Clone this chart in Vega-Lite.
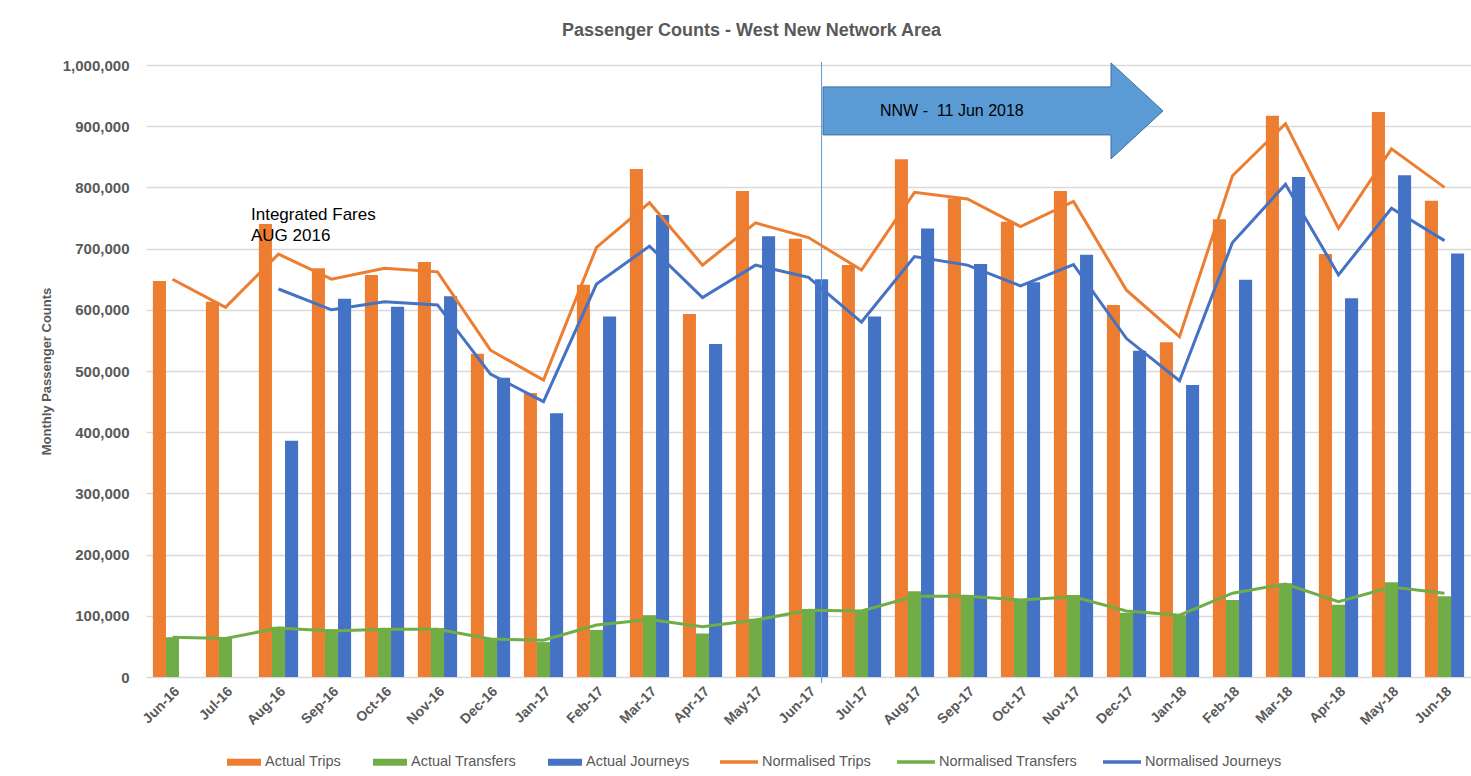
{
  "$schema": "https://vega.github.io/schema/vega-lite/v6.json",
  "width": 1325,
  "height": 612,
  "autosize": {"type": "none"},
  "padding": {"left": 146, "top": 65, "right": 0, "bottom": 99},
  "background": "white",
  "title": {
    "text": "Passenger Counts - West New Network Area",
    "fontSize": 18,
    "fontWeight": "bold",
    "color": "#595959",
    "anchor": "middle",
    "dx": -57,
    "offset": 18,
    "font": "Liberation Sans"
  },
  "datasets": {
    "bars": [
      {"month": "Jun-16", "series": "Actual Trips", "value": 647000},
      {"month": "Jul-16", "series": "Actual Trips", "value": 613000},
      {"month": "Aug-16", "series": "Actual Trips", "value": 740000},
      {"month": "Sep-16", "series": "Actual Trips", "value": 668000},
      {"month": "Oct-16", "series": "Actual Trips", "value": 657000},
      {"month": "Nov-16", "series": "Actual Trips", "value": 678000},
      {"month": "Dec-16", "series": "Actual Trips", "value": 528000},
      {"month": "Jan-17", "series": "Actual Trips", "value": 464000},
      {"month": "Feb-17", "series": "Actual Trips", "value": 641000},
      {"month": "Mar-17", "series": "Actual Trips", "value": 830000},
      {"month": "Apr-17", "series": "Actual Trips", "value": 593000},
      {"month": "May-17", "series": "Actual Trips", "value": 794000},
      {"month": "Jun-17", "series": "Actual Trips", "value": 716000},
      {"month": "Jul-17", "series": "Actual Trips", "value": 673000},
      {"month": "Aug-17", "series": "Actual Trips", "value": 846000},
      {"month": "Sep-17", "series": "Actual Trips", "value": 782000},
      {"month": "Oct-17", "series": "Actual Trips", "value": 744000},
      {"month": "Nov-17", "series": "Actual Trips", "value": 794000},
      {"month": "Dec-17", "series": "Actual Trips", "value": 608000},
      {"month": "Jan-18", "series": "Actual Trips", "value": 547000},
      {"month": "Feb-18", "series": "Actual Trips", "value": 748000},
      {"month": "Mar-18", "series": "Actual Trips", "value": 917000},
      {"month": "Apr-18", "series": "Actual Trips", "value": 691000},
      {"month": "May-18", "series": "Actual Trips", "value": 923000},
      {"month": "Jun-18", "series": "Actual Trips", "value": 778000},
      {"month": "Jun-16", "series": "Actual Transfers", "value": 65000},
      {"month": "Jul-16", "series": "Actual Transfers", "value": 64000},
      {"month": "Aug-16", "series": "Actual Transfers", "value": 82000},
      {"month": "Sep-16", "series": "Actual Transfers", "value": 78000},
      {"month": "Oct-16", "series": "Actual Transfers", "value": 80000},
      {"month": "Nov-16", "series": "Actual Transfers", "value": 80000},
      {"month": "Dec-16", "series": "Actual Transfers", "value": 63000},
      {"month": "Jan-17", "series": "Actual Transfers", "value": 57000},
      {"month": "Feb-17", "series": "Actual Transfers", "value": 77000},
      {"month": "Mar-17", "series": "Actual Transfers", "value": 101000},
      {"month": "Apr-17", "series": "Actual Transfers", "value": 71000},
      {"month": "May-17", "series": "Actual Transfers", "value": 95000},
      {"month": "Jun-17", "series": "Actual Transfers", "value": 111000},
      {"month": "Jul-17", "series": "Actual Transfers", "value": 109000},
      {"month": "Aug-17", "series": "Actual Transfers", "value": 140000},
      {"month": "Sep-17", "series": "Actual Transfers", "value": 134000},
      {"month": "Oct-17", "series": "Actual Transfers", "value": 127000},
      {"month": "Nov-17", "series": "Actual Transfers", "value": 134000},
      {"month": "Dec-17", "series": "Actual Transfers", "value": 105000},
      {"month": "Jan-18", "series": "Actual Transfers", "value": 101000},
      {"month": "Feb-18", "series": "Actual Transfers", "value": 126000},
      {"month": "Mar-18", "series": "Actual Transfers", "value": 153000},
      {"month": "Apr-18", "series": "Actual Transfers", "value": 118000},
      {"month": "May-18", "series": "Actual Transfers", "value": 155000},
      {"month": "Jun-18", "series": "Actual Transfers", "value": 132000},
      {"month": "Aug-16", "series": "Actual Journeys", "value": 386000},
      {"month": "Sep-16", "series": "Actual Journeys", "value": 618000},
      {"month": "Oct-16", "series": "Actual Journeys", "value": 605000},
      {"month": "Nov-16", "series": "Actual Journeys", "value": 622000},
      {"month": "Dec-16", "series": "Actual Journeys", "value": 489000},
      {"month": "Jan-17", "series": "Actual Journeys", "value": 431000},
      {"month": "Feb-17", "series": "Actual Journeys", "value": 589000},
      {"month": "Mar-17", "series": "Actual Journeys", "value": 755000},
      {"month": "Apr-17", "series": "Actual Journeys", "value": 544000},
      {"month": "May-17", "series": "Actual Journeys", "value": 720000},
      {"month": "Jun-17", "series": "Actual Journeys", "value": 650000},
      {"month": "Jul-17", "series": "Actual Journeys", "value": 589000},
      {"month": "Aug-17", "series": "Actual Journeys", "value": 733000},
      {"month": "Sep-17", "series": "Actual Journeys", "value": 675000},
      {"month": "Oct-17", "series": "Actual Journeys", "value": 645000},
      {"month": "Nov-17", "series": "Actual Journeys", "value": 690000},
      {"month": "Dec-17", "series": "Actual Journeys", "value": 533000},
      {"month": "Jan-18", "series": "Actual Journeys", "value": 477000},
      {"month": "Feb-18", "series": "Actual Journeys", "value": 649000},
      {"month": "Mar-18", "series": "Actual Journeys", "value": 817000},
      {"month": "Apr-18", "series": "Actual Journeys", "value": 619000},
      {"month": "May-18", "series": "Actual Journeys", "value": 820000},
      {"month": "Jun-18", "series": "Actual Journeys", "value": 692000}
    ],
    "lines": [
      {"month": "Jun-16", "series": "Normalised Trips", "value": 650000},
      {"month": "Jul-16", "series": "Normalised Trips", "value": 604000},
      {"month": "Aug-16", "series": "Normalised Trips", "value": 691000},
      {"month": "Sep-16", "series": "Normalised Trips", "value": 650000},
      {"month": "Oct-16", "series": "Normalised Trips", "value": 668000},
      {"month": "Nov-16", "series": "Normalised Trips", "value": 662000},
      {"month": "Dec-16", "series": "Normalised Trips", "value": 534000},
      {"month": "Jan-17", "series": "Normalised Trips", "value": 485000},
      {"month": "Feb-17", "series": "Normalised Trips", "value": 702000},
      {"month": "Mar-17", "series": "Normalised Trips", "value": 775000},
      {"month": "Apr-17", "series": "Normalised Trips", "value": 673000},
      {"month": "May-17", "series": "Normalised Trips", "value": 742000},
      {"month": "Jun-17", "series": "Normalised Trips", "value": 718000},
      {"month": "Jul-17", "series": "Normalised Trips", "value": 665000},
      {"month": "Aug-17", "series": "Normalised Trips", "value": 792000},
      {"month": "Sep-17", "series": "Normalised Trips", "value": 781000},
      {"month": "Oct-17", "series": "Normalised Trips", "value": 736000},
      {"month": "Nov-17", "series": "Normalised Trips", "value": 777000},
      {"month": "Dec-17", "series": "Normalised Trips", "value": 632000},
      {"month": "Jan-18", "series": "Normalised Trips", "value": 556000},
      {"month": "Feb-18", "series": "Normalised Trips", "value": 819000},
      {"month": "Mar-18", "series": "Normalised Trips", "value": 904000},
      {"month": "Apr-18", "series": "Normalised Trips", "value": 733000},
      {"month": "May-18", "series": "Normalised Trips", "value": 863000},
      {"month": "Jun-18", "series": "Normalised Trips", "value": 800000},
      {"month": "Jun-16", "series": "Normalised Transfers", "value": 65000},
      {"month": "Jul-16", "series": "Normalised Transfers", "value": 63000},
      {"month": "Aug-16", "series": "Normalised Transfers", "value": 80000},
      {"month": "Sep-16", "series": "Normalised Transfers", "value": 75000},
      {"month": "Oct-16", "series": "Normalised Transfers", "value": 78000},
      {"month": "Nov-16", "series": "Normalised Transfers", "value": 78000},
      {"month": "Dec-16", "series": "Normalised Transfers", "value": 62000},
      {"month": "Jan-17", "series": "Normalised Transfers", "value": 60000},
      {"month": "Feb-17", "series": "Normalised Transfers", "value": 85000},
      {"month": "Mar-17", "series": "Normalised Transfers", "value": 94000},
      {"month": "Apr-17", "series": "Normalised Transfers", "value": 82000},
      {"month": "May-17", "series": "Normalised Transfers", "value": 93000},
      {"month": "Jun-17", "series": "Normalised Transfers", "value": 109000},
      {"month": "Jul-17", "series": "Normalised Transfers", "value": 108000},
      {"month": "Aug-17", "series": "Normalised Transfers", "value": 132000},
      {"month": "Sep-17", "series": "Normalised Transfers", "value": 132000},
      {"month": "Oct-17", "series": "Normalised Transfers", "value": 126000},
      {"month": "Nov-17", "series": "Normalised Transfers", "value": 131000},
      {"month": "Dec-17", "series": "Normalised Transfers", "value": 108000},
      {"month": "Jan-18", "series": "Normalised Transfers", "value": 101000},
      {"month": "Feb-18", "series": "Normalised Transfers", "value": 137000},
      {"month": "Mar-18", "series": "Normalised Transfers", "value": 152000},
      {"month": "Apr-18", "series": "Normalised Transfers", "value": 123000},
      {"month": "May-18", "series": "Normalised Transfers", "value": 147000},
      {"month": "Jun-18", "series": "Normalised Transfers", "value": 137000},
      {"month": "Aug-16", "series": "Normalised Journeys", "value": 634000},
      {"month": "Sep-16", "series": "Normalised Journeys", "value": 600000},
      {"month": "Oct-16", "series": "Normalised Journeys", "value": 613000},
      {"month": "Nov-16", "series": "Normalised Journeys", "value": 608000},
      {"month": "Dec-16", "series": "Normalised Journeys", "value": 495000},
      {"month": "Jan-17", "series": "Normalised Journeys", "value": 450000},
      {"month": "Feb-17", "series": "Normalised Journeys", "value": 642000},
      {"month": "Mar-17", "series": "Normalised Journeys", "value": 704000},
      {"month": "Apr-17", "series": "Normalised Journeys", "value": 620000},
      {"month": "May-17", "series": "Normalised Journeys", "value": 673000},
      {"month": "Jun-17", "series": "Normalised Journeys", "value": 653000},
      {"month": "Jul-17", "series": "Normalised Journeys", "value": 580000},
      {"month": "Aug-17", "series": "Normalised Journeys", "value": 687000},
      {"month": "Sep-17", "series": "Normalised Journeys", "value": 673000},
      {"month": "Oct-17", "series": "Normalised Journeys", "value": 639000},
      {"month": "Nov-17", "series": "Normalised Journeys", "value": 674000},
      {"month": "Dec-17", "series": "Normalised Journeys", "value": 553000},
      {"month": "Jan-18", "series": "Normalised Journeys", "value": 484000},
      {"month": "Feb-18", "series": "Normalised Journeys", "value": 710000},
      {"month": "Mar-18", "series": "Normalised Journeys", "value": 805000},
      {"month": "Apr-18", "series": "Normalised Journeys", "value": 657000},
      {"month": "May-18", "series": "Normalised Journeys", "value": 766000},
      {"month": "Jun-18", "series": "Normalised Journeys", "value": 713000}
    ]
  },
  "encoding": {
    "x": {
      "field": "month",
      "type": "nominal",
      "title": null,
      "scale": {
        "domain": ["Jun-16","Jul-16","Aug-16","Sep-16","Oct-16","Nov-16","Dec-16","Jan-17","Feb-17","Mar-17","Apr-17","May-17","Jun-17","Jul-17","Aug-17","Sep-17","Oct-17","Nov-17","Dec-17","Jan-18","Feb-18","Mar-18","Apr-18","May-18","Jun-18"],
        "paddingInner": 0.26,
        "paddingOuter": 0.13
      },
      "axis": {
        "labelAngle": -45,
        "labelFontSize": 14,
        "labelFontWeight": "bold",
        "labelColor": "#595959",
        "labelFont": "Liberation Sans",
        "labelPadding": 7,
        "ticks": false,
        "domain": false,
        "grid": false
      }
    },
    "y": {
      "field": "value",
      "type": "quantitative",
      "scale": {"domain": [0, 1000000], "nice": false},
      "axis": {
        "title": "Monthly Passenger Counts",
        "values": [0, 100000, 200000, 300000, 400000, 500000, 600000, 700000, 800000, 900000, 1000000],
        "format": ",.0f",
        "grid": true,
        "gridColor": "#d9d9d9",
        "gridWidth": 1.3,
        "domain": false,
        "ticks": false,
        "labelFontSize": 15,
        "labelFontWeight": "bold",
        "labelColor": "#595959",
        "labelFont": "Liberation Sans",
        "labelPadding": 17,
        "titleFontSize": 13,
        "titleFontWeight": "bold",
        "titleColor": "#595959",
        "titleFont": "Liberation Sans",
        "titlePadding": 9
      }
    }
  },
  "layer": [
    {
      "data": {"name": "bars"},
      "mark": {"type": "bar"},
      "encoding": {
        "xOffset": {
          "field": "series",
          "type": "nominal",
          "scale": {"domain": ["Actual Trips", "Actual Transfers", "Actual Journeys"], "paddingInner": 0, "paddingOuter": 0}
        },
        "color": {
          "field": "series",
          "type": "nominal",
          "scale": {"domain": ["Actual Trips", "Actual Transfers", "Actual Journeys"], "range": ["#ed7d31", "#70ad47", "#4472c4"]},
          "legend": {
            "title": null,
            "orient": "none",
            "direction": "horizontal",
            "legendX": 81,
            "legendY": 680,
            "padding": 0,
            "symbolType": "M-1,-0.2H1V0.2H-1Z",
            "symbolSize": 1156,
            "symbolStrokeWidth": 0,
            "labelFontSize": 14.5,
            "labelColor": "#595959",
            "labelFont": "Liberation Sans",
            "labelOffset": 4,
            "columnPadding": 31
          }
        }
      }
    },
    {
      "data": {"values": [{"month": "Jun-17", "series": "Actual Journeys", "value": 1005000, "value2": -10000}]},
      "mark": {"type": "rule", "color": "#5b9bd5", "strokeWidth": 1},
      "encoding": {
        "xOffset": {"field": "series", "type": "nominal"},
        "y2": {"field": "value2"}
      }
    },
    {
      "data": {"name": "lines"},
      "mark": {"type": "line", "strokeWidth": 3},
      "encoding": {
        "stroke": {
          "field": "series",
          "type": "nominal",
          "scale": {"domain": ["Normalised Trips", "Normalised Transfers", "Normalised Journeys"], "range": ["#ed7d31", "#70ad47", "#4472c4"]},
          "legend": {
            "title": null,
            "orient": "none",
            "direction": "horizontal",
            "legendX": 572,
            "legendY": 676,
            "padding": 0,
            "symbolType": "stroke",
            "symbolSize": 1444,
            "symbolStrokeWidth": 3.5,
            "labelFontSize": 14.5,
            "labelColor": "#595959",
            "labelFont": "Liberation Sans",
            "labelOffset": 2,
            "columnPadding": 18
          }
        }
      }
    },
    {
      "data": {"values": [{"month": "Sep-17", "value": 925000}]},
      "mark": {
        "type": "point",
        "shape": "M-0.739,-0.1228L0.734,-0.1228L0.734,-0.2455L1,0L0.734,0.2455L0.734,0.1228L-0.739,0.1228Z",
        "size": 152881,
        "filled": true,
        "fill": "#5b9bd5",
        "stroke": "#41719c",
        "strokeWidth": 1,
        "opacity": 1
      }
    },
    {
      "data": {"values": [{"month": "Jul-17", "value": 925000, "label": "NNW -\u00a0 11 Jun 2018"}]},
      "mark": {"type": "text", "align": "left", "baseline": "middle", "dx": 18.5, "fontSize": 16, "color": "#000000", "font": "Liberation Sans"},
      "encoding": {
        "text": {"field": "label"}
      }
    },
    {
      "data": {"values": [{"month": "Aug-16", "value": 747000, "label": "Integrated Fares\nAUG 2016"}]},
      "mark": {"type": "text", "align": "left", "baseline": "alphabetic", "dx": -27.5, "fontSize": 17, "lineBreak": "\n", "lineHeight": 21, "color": "#000000", "font": "Liberation Sans"},
      "encoding": {
        "text": {"field": "label"}
      }
    }
  ],
  "config": {
    "view": {"stroke": null},
    "font": "Liberation Sans"
  }
}
